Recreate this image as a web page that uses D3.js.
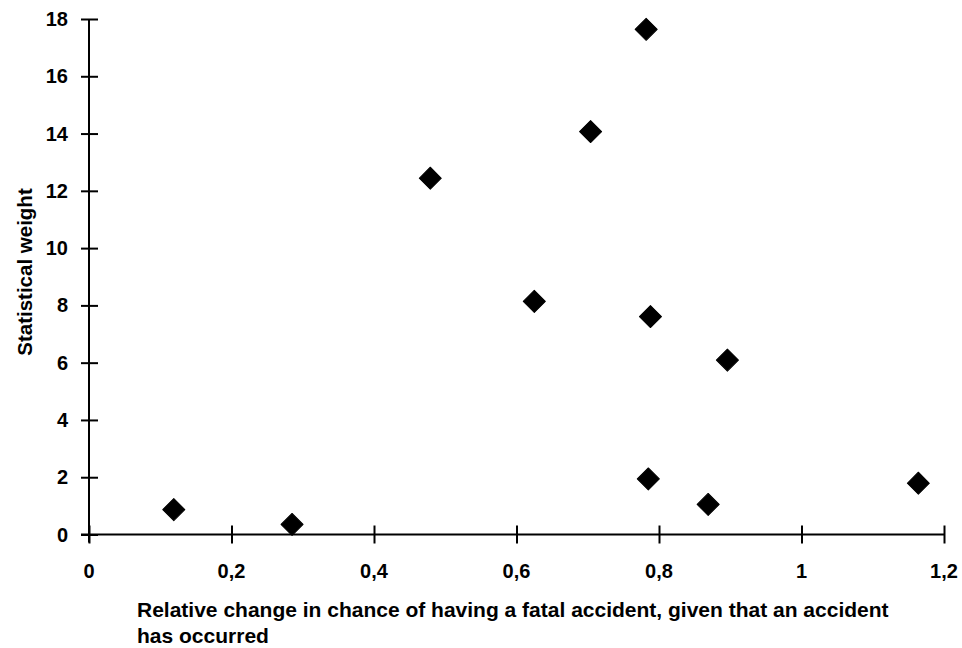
<!DOCTYPE html>
<html>
<head>
<meta charset="utf-8">
<script src="https://cdn.jsdelivr.net/npm/d3@7"></script>
<style>
  html, body { margin: 0; padding: 0; background: #fff; }
  svg { display: block; }
  text { font-family: "Liberation Sans", Arial, sans-serif; font-weight: bold; fill: #000; }
</style>
</head>
<body>
<svg id="chart" width="962" height="648"></svg>
<script>
// Relative change in fatality chance (x) against statistical weight (y)
const relativeChange = [0.119, 0.285, 0.479, 0.625, 0.704, 0.782, 0.788, 0.785, 0.869, 0.896, 1.164];
const statisticalWeight = [0.87, 0.35, 12.44, 8.14, 14.07, 17.64, 7.61, 1.94, 1.05, 6.09, 1.79];

const xTicks = [0, 0.2, 0.4, 0.6, 0.8, 1, 1.2];
const yTicks = [0, 2, 4, 6, 8, 10, 12, 14, 16, 18];

const xTitleLines = [
  "Relative change in chance of having a fatal accident, given that an accident",
  "has occurred"
];
const yTitle = "Statistical weight";

const svg = d3.select("#chart");

const x = d3.scaleLinear().domain([0, 1.2]).range([89, 944]);
const y = d3.scaleLinear().domain([0, 18]).range([534.5, 19]);

const fmt = d => String(d).replace(".", ",");

// x axis: ticks cross the axis line
const xAxis = svg.append("g")
  .attr("transform", `translate(0,${y(0)})`)
  .call(d3.axisBottom(x).tickValues(xTicks).tickFormat(fmt).tickSize(0).tickSizeOuter(0));
xAxis.select(".domain").remove();
xAxis.selectAll(".tick text").remove();
xAxis.append("line")
  .attr("x1", x(0) - 8).attr("x2", x(1.2))
  .attr("stroke", "#000").attr("stroke-width", 2);
xAxis.selectAll(".tick line")
  .attr("y1", -9).attr("y2", 9)
  .attr("stroke", "#000").attr("stroke-width", 2);

svg.append("g").selectAll("text")
  .data(xTicks)
  .join("text")
  .attr("x", d => x(d))
  .attr("y", 578)
  .attr("text-anchor", "middle")
  .attr("font-size", 20)
  .text(fmt);

// y axis
const yAxis = svg.append("g")
  .attr("transform", `translate(${x(0)},0)`)
  .call(d3.axisLeft(y).tickValues(yTicks).tickSize(0).tickSizeOuter(0));
yAxis.select(".domain").remove();
yAxis.selectAll(".tick text").remove();
yAxis.append("line")
  .attr("y1", y(18)).attr("y2", y(0) + 8)
  .attr("stroke", "#000").attr("stroke-width", 2);
yAxis.selectAll(".tick line")
  .attr("x1", -8).attr("x2", 9)
  .attr("stroke", "#000").attr("stroke-width", 2);

svg.append("g").selectAll("text")
  .data(yTicks)
  .join("text")
  .attr("x", 68)
  .attr("y", d => y(d) + 7)
  .attr("text-anchor", "end")
  .attr("font-size", 20)
  .text(d => d);

// axis titles
svg.append("g").selectAll("text")
  .data(xTitleLines)
  .join("text")
  .attr("x", 137)
  .attr("y", (d, i) => 617 + i * 26)
  .attr("font-size", 21)
  .text(d => d);

svg.append("text")
  .attr("transform", `translate(32,272) rotate(-90)`)
  .attr("text-anchor", "middle")
  .attr("font-size", 20.5)
  .text(yTitle);

// diamond markers
const diamond = d3.symbol().type(d3.symbolSquare).size(243);
svg.append("g").selectAll("path")
  .data(relativeChange.map((v, i) => [v, statisticalWeight[i]]))
  .join("path")
  .attr("d", diamond)
  .attr("transform", d => `translate(${x(d[0])},${y(d[1])}) rotate(45)`)
  .attr("fill", "#000")
  .attr("stroke", "#000")
  .attr("stroke-width", 1)
  .attr("stroke-linejoin", "round");
</script>
</body>
</html>
